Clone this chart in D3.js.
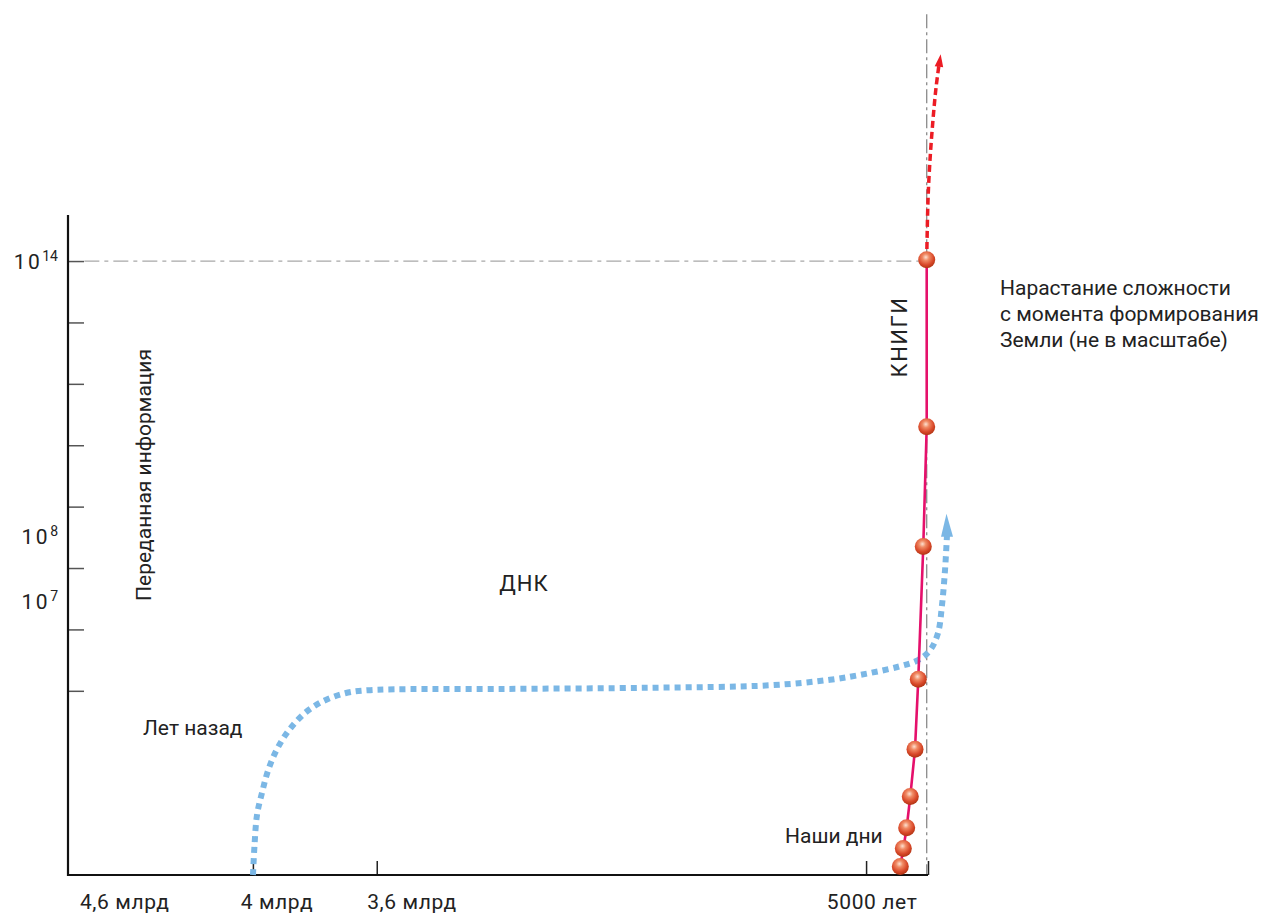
<!DOCTYPE html>
<html><head><meta charset="utf-8">
<script src="https://cdn.jsdelivr.net/npm/d3@7"></script>
<style>
html,body{margin:0;padding:0;background:#fff;}
svg{display:block;font-family:Roboto,"Noto Sans",sans-serif;}
</style></head>
<body>
<svg id="chart" width="1267" height="914"></svg>
<script>
// ---- data (abstract "not to scale" units) ----
const xTickValues = [21.5, 35.9, 92.8, 100];
const xTickLabels = ["4,6 млрд", "4 млрд", "3,6 млрд", "5000 лет"];
const xTickLabelPos = [6.6, 24.3, 40.0, 93.5];
const yTickValues = [3, 4, 5, 6, 7, 8, 9, 10];
const yLabelBase = ["10", "10", "10"];
const yLabelExp = ["14", "8", "7"];
const yLabelPos = [10, 5.52, 4.45];
// DNA curve (blue dotted)
const dnaX = [21.51, 21.69, 21.98, 22.56, 23.26, 24.30, 25.70, 27.56, 29.65, 32.21, 34.88, 50.23, 67.67, 81.63, 88.60, 93.26, 96.74, 98.84, 100.23, 101.16, 101.63, 101.98, 102.21];
const dnaY = [0, 0.49, 0.98, 1.34, 1.70, 2.05, 2.36, 2.64, 2.83, 2.96, 3.01, 3.03, 3.05, 3.09, 3.18, 3.29, 3.40, 3.50, 3.66, 3.94, 4.40, 4.97, 5.54];
// Books curve (balls)
const bookX = [96.78, 97.13, 97.52, 97.94, 98.49, 98.87, 99.45, 99.85, 99.85];
const bookY = [0.14, 0.43, 0.77, 1.28, 2.05, 3.19, 5.35, 7.30, 10.02];
// Future projection (red dotted arrow)
const futureX = [99.85, 100.0, 100.23, 100.58, 100.93, 101.3];
const futureY = [10.02, 10.99, 11.64, 12.30, 12.82, 13.22];
const presentX = 99.85;
const capLevel = 10;
const topLevel = 14.02;

const svg = d3.select("#chart");
const x = d3.scaleLinear().domain([0, 100]).range([68, 928]);
const y = d3.scaleLinear().domain([0, 10.75]).range([875, 215]);

const defs = svg.append("defs");
const g = defs.append("radialGradient").attr("id", "ball").attr("cx", "45%").attr("cy", "35%").attr("r", "65%");
g.append("stop").attr("offset", "0%").attr("stop-color", "#fde0d0");
g.append("stop").attr("offset", "30%").attr("stop-color", "#f08a64");
g.append("stop").attr("offset", "70%").attr("stop-color", "#d9492a");
g.append("stop").attr("offset", "100%").attr("stop-color", "#b03413");

// reference dash-dot lines
svg.append("line")
  .attr("x1", x(1.9)).attr("x2", x(presentX))
  .attr("y1", y(capLevel)).attr("y2", y(capLevel))
  .attr("stroke", "#a8a8a8").attr("stroke-width", 1.3)
  .attr("stroke-dasharray", "15,5,4,5");
svg.append("line")
  .attr("x1", x(presentX)).attr("x2", x(presentX))
  .attr("y1", y(topLevel)).attr("y2", y(0))
  .attr("stroke", "#8a8a8a").attr("stroke-width", 1.3)
  .attr("stroke-dasharray", "14,4,3,4");

// axes
const yAxis = d3.axisRight(y).tickValues(yTickValues).tickSize(16).tickFormat("");
const ya = svg.append("g").attr("transform", `translate(${x(0)},0)`).call(yAxis);
ya.select(".domain").remove();
ya.selectAll(".tick line").attr("stroke", "#555").attr("stroke-width", 1.5);
svg.append("line").attr("x1", x(0)).attr("x2", x(0)).attr("y1", 215).attr("y2", y(0) + 1)
  .attr("stroke", "#111").attr("stroke-width", 2.2);

const xAxis = d3.axisTop(x).tickValues(xTickValues).tickSize(14).tickFormat("");
const xa = svg.append("g").attr("transform", `translate(0,${y(0)})`).call(xAxis);
xa.select(".domain").remove();
xa.selectAll(".tick line").attr("stroke", "#222").attr("stroke-width", 1.5);
svg.append("line").attr("x1", x(0) - 1).attr("x2", x(100)).attr("y1", y(0)).attr("y2", y(0))
  .attr("stroke", "#111").attr("stroke-width", 2);

svg.append("g").selectAll("text").data(xTickLabels).join("text")
  .attr("x", (d, i) => x(xTickLabelPos[i])).attr("y", 909)
  .attr("text-anchor", "middle").attr("font-size", 21).attr("letter-spacing", 0.6).attr("fill", "#222")
  .text(d => d);

const yl = svg.append("g").selectAll("text").data(yLabelBase).join("text")
  .attr("x", 58).attr("y", (d, i) => y(yLabelPos[i]) + 7.5)
  .attr("text-anchor", "end").attr("font-size", 21).attr("fill", "#222");
yl.append("tspan").attr("letter-spacing", 2.5).text(d => d);
yl.append("tspan").attr("dy", -8).attr("font-size", 14).text((d, i) => yLabelExp[i]);

// DNA curve
const dnaData = dnaX.map((v, i) => [v, dnaY[i]]);
const line = d3.line().x(d => x(d[0])).y(d => y(d[1])).curve(d3.curveCatmullRom.alpha(0.5));
svg.append("path").attr("d", line(dnaData))
  .attr("fill", "none").attr("stroke", "#7bb7e5").attr("stroke-width", 6)
  .attr("stroke-dasharray", "6,5");
const dl = dnaData[dnaData.length - 1];
svg.append("path")
  .attr("d", `M${x(dl[0]) - 6},${y(dl[1]) + 2} L${x(dl[0]) + 6},${y(dl[1]) + 2} L${x(dl[0]) - 0.5},${y(dl[1]) - 21} Z`)
  .attr("fill", "#7bb7e5");

// future red dotted arrow
const futData = futureX.map((v, i) => [v, futureY[i]]);
svg.append("path").attr("d", line(futData))
  .attr("fill", "none").attr("stroke", "#ec1c24").attr("stroke-width", 3.5)
  .attr("stroke-dasharray", "7,4");
const fl = futData[futData.length - 1];
svg.append("path")
  .attr("d", `M${x(fl[0]) - 4.5},${y(fl[1]) + 3} L${x(fl[0]) + 4},${y(fl[1]) + 4} L${x(fl[0]) + 1.5},${y(fl[1]) - 9} Z`)
  .attr("fill", "#ec1c24");

// books line + balls
const bookData = bookX.map((v, i) => [v, bookY[i]]);
svg.append("path").attr("d", d3.line().x(d => x(d[0])).y(d => y(d[1]))(bookData))
  .attr("fill", "none").attr("stroke", "#e5106b").attr("stroke-width", 2.6);
svg.append("g").selectAll("circle").data(bookData).join("circle")
  .attr("cx", d => x(d[0])).attr("cy", d => y(d[1])).attr("r", 8.5)
  .attr("fill", "url(#ball)");

// annotations
const txt = (s, px, py, opts = {}) => {
  const t = svg.append("text").attr("x", px).attr("y", py).attr("font-size", opts.size || 21)
    .attr("fill", "#222").attr("text-anchor", opts.anchor || "start").text(s);
  if (opts.ls) t.attr("letter-spacing", opts.ls);
  if (opts.rotate) t.attr("transform", `rotate(-90,${px},${py})`);
  return t;
};
txt("Переданная информация", 151, 475, {anchor: "middle", rotate: true, size: 21});
txt("ДНК", 524, 591, {anchor: "middle", size: 22, ls: 1});
txt("Лет назад", 143, 735);
txt("Наши дни", 785, 843);
txt("КНИГИ", 907, 337, {anchor: "middle", rotate: true, size: 22, ls: 1.5});
txt("Нарастание сложности", 1000, 295);
txt("с момента формирования", 1000, 321);
txt("Земли (не в масштабе)", 1000, 347);
</script>
</body></html>
